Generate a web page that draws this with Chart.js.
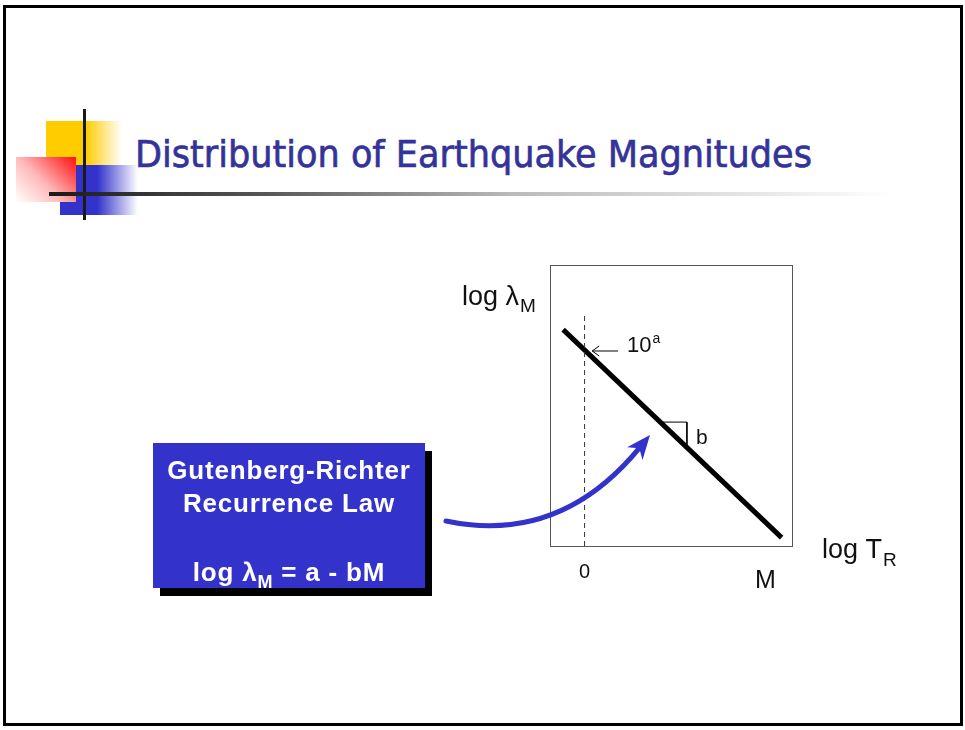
<!DOCTYPE html>
<html>
<head>
<meta charset="utf-8">
<script src="https://cdn.jsdelivr.net/npm/chart.js@4.4.0/dist/chart.umd.min.js"></script>
<style>
  body { margin: 0; background: #fff; }
  #slide { position: relative; width: 965px; height: 730px; overflow: hidden; background: #fff; }
  #frame { position: absolute; left: 3px; top: 5px; width: 954px; height: 715px; border: 3px solid #000; }
  #gr { position: absolute; left: 0; top: 0; }
  .deco { position: absolute; }
  #title { position: absolute; left: 135px; top: 135px; font-family: "DejaVu Sans", sans-serif; font-size: 38px; line-height: 38px; color: #333399; -webkit-text-stroke: 0.7px #333399; white-space: nowrap; transform-origin: 0 0; }
  #law { position: absolute; left: 153px; top: 443px; width: 272px; height: 145px; background: #3333cc; box-shadow: 7px 8px 0 #000; color: #fff; font-family: "Liberation Sans", Arial, sans-serif; font-weight: bold; font-size: 26px; text-align: center; }
  #law div { position: absolute; left: 0; width: 100%; line-height: 30px; letter-spacing: 0.8px; }
  sub { font-size: 18px; vertical-align: -7px; line-height: 0; }
</style>
</head>
<body>
<div id="slide">
  <div id="frame"></div>
  <div class="deco" style="left:46px;top:121px;width:76px;height:44px;background:linear-gradient(to right,#ffcc00 0,#ffcc00 52%,#fff 100%)"></div>
  <div class="deco" style="left:60px;top:165px;width:78px;height:50px;background:linear-gradient(to right,#3333cc 0,#3333cc 48%,#fff 100%)"></div>
  <div class="deco" style="left:16px;top:157px;width:60px;height:45px;background:linear-gradient(225deg,#ff1010 0,#ffb8b8 55%,#fff 100%)"></div>
  <div class="deco" style="left:83px;top:109px;width:3px;height:111px;background:#1a1a1a"></div>
  <div class="deco" style="left:49px;top:192px;width:845px;height:4px;background:linear-gradient(to right,#1a1a1a 0,#555 25%,#bbb 55%,#fff 100%)"></div>
  <div id="title">Distribution of Earthquake Magnitudes</div>
  <canvas id="gr" width="965" height="730"></canvas>
  <div id="law">
    <div style="top:12px">Gutenberg-Richter</div>
    <div style="top:45px">Recurrence Law</div>
    <div style="top:114px">log &lambda;<sub>M</sub> = a - bM</div>
  </div>
</div>
<script>
// recurrence line, log lambda_M against M
const lineM = [-0.62, 5.7]
const lineLogRate = [7.7, 0.3]
// dashed line at M = 0
const zeroM = [0, 0]
const zeroLogRate = [0, 8.3]
// slope triangle
const slopeM = [2.24, 2.96, 2.96]
const slopeLogRate = [4.41, 4.41, 3.6]
// little arrow pointing at the intercept 10^a
const interceptM = [0.97, 0.22]
const interceptLogRate = [6.94, 6.94]
const xTicks = [0]
const xTickLabels = ['0']

function pts(xs, ys) {
  return xs.map((x, i) => ({ x: x, y: ys[i] }))
}

// fit title width to the slide
const title = document.getElementById('title')
const w = title.getBoundingClientRect().width
title.style.transform = 'scaleX(' + (677 / w) + ')'

const labelsPlugin = {
  id: 'labels',
  afterDatasetsDraw(chart) {
    const ctx = chart.ctx
    const a = chart.chartArea
    const xs = chart.scales.x
    const ys = chart.scales.y
    ctx.save()

    // plot frame
    ctx.strokeStyle = '#555'
    ctx.lineWidth = 1
    ctx.strokeRect(a.left + 0.5, a.top + 0.5, a.right - a.left, a.bottom - a.top)

    // arrowhead of the intercept pointer
    const ax = xs.getPixelForValue(interceptM[1])
    const ay = ys.getPixelForValue(interceptLogRate[1])
    ctx.strokeStyle = '#000'
    ctx.beginPath()
    ctx.moveTo(ax + 7, ay - 5)
    ctx.lineTo(ax, ay)
    ctx.lineTo(ax + 7, ay + 5)
    ctx.stroke()

    ctx.fillStyle = '#111'
    ctx.textBaseline = 'alphabetic'
    ctx.textAlign = 'left'
    const f = (s) => s + 'px "Liberation Sans", Arial, sans-serif'

    // 10^a
    const tx = xs.getPixelForValue(interceptM[0]) + 9
    ctx.font = f(22)
    ctx.fillText('10', tx, ay + 1)
    const tw = ctx.measureText('10').width
    ctx.font = f(14)
    ctx.fillText('a', tx + tw + 1, ay - 8)

    // b
    ctx.font = f(21)
    ctx.fillText('b', xs.getPixelForValue(slopeM[1]) + 9, ys.getPixelForValue(slopeLogRate[2]) - 1)

    // tick labels
    ctx.font = f(20)
    ctx.textAlign = 'center'
    xTicks.forEach((v, i) => {
      ctx.fillText(xTickLabels[i], xs.getPixelForValue(v), a.bottom + 32)
    })

    // axis names
    ctx.textAlign = 'left'
    ctx.font = f(27)
    ctx.fillText('log \u03bb', a.left - 88, a.top + 40)
    let lw = ctx.measureText('log \u03bb').width
    ctx.font = f(19)
    ctx.fillText('M', a.left - 88 + lw + 1, a.top + 47)

    ctx.font = f(27)
    ctx.fillText('log T', a.right + 30, a.bottom + 12)
    lw = ctx.measureText('log T').width
    ctx.font = f(19)
    ctx.fillText('R', a.right + 30 + lw + 1, a.bottom + 20)

    ctx.font = f(25)
    ctx.fillText('M', a.right - 37, a.bottom + 42)

    // blue curved arrow from the text box
    const p0 = [446, 521], p1 = [560, 545], tip = [650, 435]
    const dx = tip[0] - p1[0], dy = tip[1] - p1[1]
    const d = Math.hypot(dx, dy)
    const ux = dx / d, uy = dy / d
    const end = [tip[0] - ux * 16, tip[1] - uy * 16]
    ctx.strokeStyle = '#3333cc'
    ctx.fillStyle = '#3333cc'
    ctx.lineWidth = 5
    ctx.lineCap = 'round'
    ctx.beginPath()
    ctx.moveTo(p0[0], p0[1])
    ctx.quadraticCurveTo(p1[0], p1[1], end[0], end[1])
    ctx.stroke()
    ctx.beginPath()
    ctx.moveTo(tip[0], tip[1])
    ctx.lineTo(tip[0] - ux * 24 - uy * 10, tip[1] - uy * 24 + ux * 10)
    ctx.lineTo(tip[0] - ux * 17, tip[1] - uy * 17)
    ctx.lineTo(tip[0] - ux * 24 + uy * 10, tip[1] - uy * 24 - ux * 10)
    ctx.closePath()
    ctx.fill()

    ctx.restore()
  }
}

new Chart(document.getElementById('gr'), {
  type: 'scatter',
  data: {
    datasets: [
      { data: pts(zeroM, zeroLogRate), showLine: true, borderColor: '#333', borderWidth: 1, borderDash: [5, 4], pointRadius: 0 },
      { data: pts(lineM, lineLogRate), showLine: true, borderColor: '#000', borderWidth: 5, pointRadius: 0 },
      { data: pts(slopeM, slopeLogRate), showLine: true, borderColor: '#000', borderWidth: 1, pointRadius: 0 },
      { data: pts(interceptM, interceptLogRate), showLine: true, borderColor: '#000', borderWidth: 1, pointRadius: 0 }
    ]
  },
  options: {
    responsive: false,
    animation: false,
    layout: { padding: { left: 550, top: 265, right: 173, bottom: 184 } },
    scales: {
      x: { type: 'linear', min: -1, max: 6, display: false },
      y: { type: 'linear', min: 0, max: 10, display: false }
    },
    plugins: { legend: { display: false }, tooltip: { enabled: false } }
  },
  plugins: [labelsPlugin]
})
</script>
</body>
</html>
